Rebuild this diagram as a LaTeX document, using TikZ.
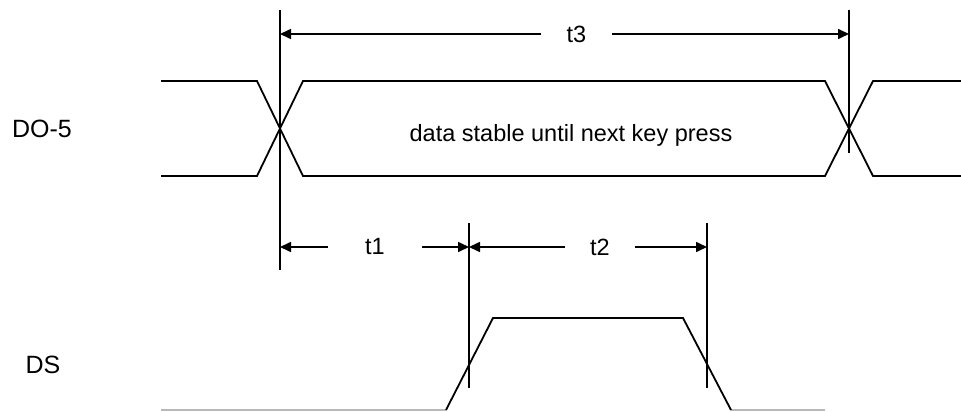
\documentclass[tikz,border=0pt]{standalone}
\usepackage{fontspec}
\setmainfont{Liberation Sans}
\usetikzlibrary{arrows.meta}
\begin{document}
\begin{tikzpicture}[x=1pt,y=-1pt,
  sig/.style={line width=1.8pt,line join=miter},
  lowline/.style={line width=1.3pt,draw=black!28},
  marker/.style={line width=1.8pt},
  dim/.style={line width=1.6pt,-{Triangle[length=11pt,width=10pt]}},
  lbl/.style={font=\fontsize{25}{28}\selectfont,inner sep=0pt},
  tlbl/.style={font=\fontsize{23.5}{26}\selectfont,inner ysep=0pt},
  note/.style={font=\fontsize{23.5}{26}\selectfont,inner sep=0pt}]
\useasboundingbox (0,0) rectangle (961,412);
% labels
\node[lbl] (do5) at (42,129) {DO-5};
\node[lbl] (ds) at (43,365) {DS};
% DO-5 waveform
\draw[sig] (161,81) -- (257,81) -- (303,176) -- (825,176) -- (873,81) -- (961,81);
\draw[sig] (161,176) -- (257,176) -- (303,81) -- (825,81) -- (873,176) -- (961,176);
\node[note] (stable) at (571,135) {data stable until next key press};
% DS waveform
\draw[lowline] (161,410) -- (446,410);
\draw[lowline] (731,410) -- (825,410);
\draw[sig] (446,410) -- (493,318) -- (683,318) -- (731,410);
% vertical markers
\coordinate (a0) at (280,10);  \coordinate (a1) at (280,270);
\coordinate (b0) at (849,10);  \coordinate (b1) at (849,153);
\coordinate (c0) at (469,223); \coordinate (c1) at (469,388);
\coordinate (d0) at (707,223); \coordinate (d1) at (707,388);
\draw[marker] (a0) -- (a1);
\draw[marker] (b0) -- (b1);
\draw[marker] (c0) -- (c1);
\draw[marker] (d0) -- (d1);
% arrow targets
\coordinate (a3) at (280,34);  \coordinate (b3) at (849,34);
\coordinate (a4) at (280,247); \coordinate (c4) at (469,247);
\coordinate (d4) at (707,247);
% dimension labels
\node[tlbl,inner xsep=25.7pt] (t3) at (576.5,34) {t3};
\node[tlbl,inner xsep=37pt] (t1) at (375,247) {t1};
\node[tlbl,inner xsep=25pt] (t2) at (600,247) {t2};
\draw[dim] (t3.west) -- (a3);
\draw[dim] (t3.east) -- (b3);
\draw[dim] (t1.west) -- (a4);
\draw[dim] (t1.east) -- (c4);
\draw[dim] (t2.west) -- (c4);
\draw[dim] (t2.east) -- (d4);
\end{tikzpicture}
\end{document}
